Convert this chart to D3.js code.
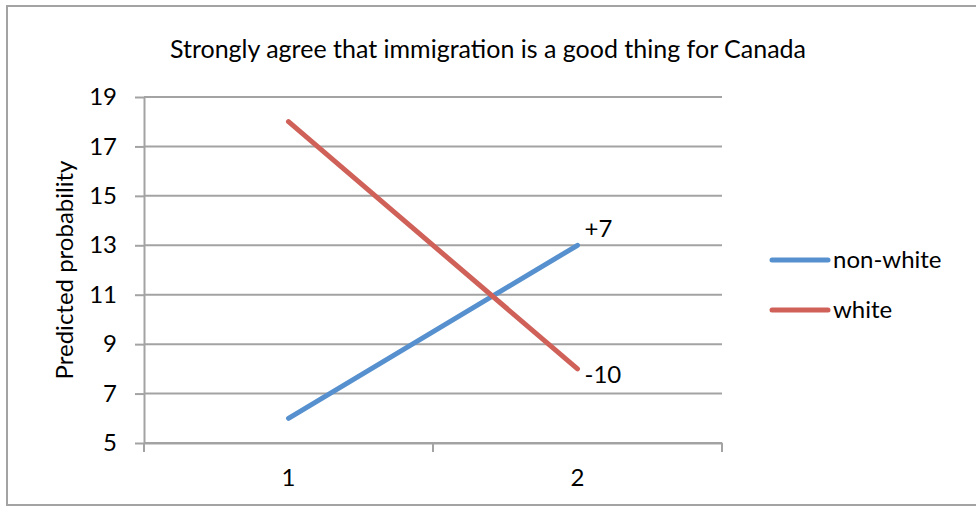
<!DOCTYPE html>
<html>
<head>
<meta charset="utf-8">
<script src="https://cdn.jsdelivr.net/npm/d3@7"></script>
<style>
  html, body { margin: 0; padding: 0; background: #fff; }
  svg text { font-family: Lato, "Open Sans", sans-serif; fill: #000; }
</style>
</head>
<body>
<svg id="chart" width="976" height="506"></svg>
<script>
'use strict';

// Chart data
var categories = ['1', '2'];
var nonWhite = [6, 13];
var white = [18, 8];
var seriesNames = ['non-white', 'white'];
var yTicks = [5, 7, 9, 11, 13, 15, 17, 19];
var changeLabels = ['+7', '-10'];

var colors = { 'non-white': '#5690CE', 'white': '#CF6159' };
var grey = '#a3a3a3';
var fontSize = '24px';

var svg = d3.select('#chart');

// outer chart frame (right edge runs off the picture)
svg.append('rect')
  .attr('x', 7).attr('y', 6)
  .attr('width', 990).attr('height', 499)
  .attr('fill', 'none')
  .attr('stroke', grey)
  .attr('stroke-width', 2);

var plot = { left: 144, right: 722, top: 97, bottom: 443 };

var x = d3.scaleBand().domain(categories).range([plot.left, plot.right]).padding(0);
var y = d3.scaleLinear().domain([5, 19]).range([plot.bottom, plot.top]);

// Title
svg.append('text')
  .attr('x', 488).attr('y', 58)
  .attr('text-anchor', 'middle')
  .attr('font-size', '25px')
  .text('Strongly agree that immigration is a good thing for Canada');

// Gridlines
svg.append('g').selectAll('line')
  .data(yTicks)
  .join('line')
  .attr('x1', plot.left).attr('x2', plot.right)
  .attr('y1', function(d){ return y(d); })
  .attr('y2', function(d){ return y(d); })
  .attr('stroke', grey)
  .attr('stroke-width', 2);

// Y axis
var yAxis = svg.append('g')
  .attr('transform', 'translate(' + plot.left + ',0)')
  .call(d3.axisLeft(y).tickValues(yTicks).tickSize(9).tickPadding(18).tickSizeOuter(0));
yAxis.select('.domain').attr('stroke', grey).attr('stroke-width', 2);
yAxis.selectAll('.tick line').attr('stroke', grey).attr('stroke-width', 2);
yAxis.selectAll('.tick text').attr('font-size', fontSize).attr('font-family', 'Lato').attr('fill', '#000');

// X axis: labels centred in each category, tick marks on category edges
var xAxis = svg.append('g')
  .attr('transform', 'translate(0,' + plot.bottom + ')')
  .call(d3.axisBottom(x).tickSize(0).tickPadding(26).tickSizeOuter(0));
xAxis.select('.domain').attr('stroke', grey).attr('stroke-width', 2);
xAxis.selectAll('.tick text').attr('font-size', fontSize).attr('font-family', 'Lato').attr('fill', '#000');

var edges = [plot.left].concat(categories.map(function(c){ return x(c) + x.bandwidth(); }));
svg.append('g').selectAll('line')
  .data(edges)
  .join('line')
  .attr('x1', function(d){ return d; }).attr('x2', function(d){ return d; })
  .attr('y1', plot.bottom).attr('y2', plot.bottom + 9)
  .attr('stroke', grey)
  .attr('stroke-width', 2);

// Series lines
var series = [
  { name: 'non-white', values: nonWhite },
  { name: 'white', values: white }
];

var line = d3.line()
  .x(function(d, i){ return x(categories[i]) + x.bandwidth() / 2; })
  .y(function(d){ return y(d); });

svg.append('g').selectAll('path')
  .data(series)
  .join('path')
  .attr('d', function(s){ return line(s.values); })
  .attr('fill', 'none')
  .attr('stroke', function(s){ return colors[s.name]; })
  .attr('stroke-width', 5)
  .attr('stroke-linecap', 'round');

// Change labels at the right-hand end of each line
var lastX = x(categories[1]) + x.bandwidth() / 2;
svg.append('text')
  .attr('x', lastX + 7).attr('y', y(nonWhite[1]) - 8)
  .attr('font-size', fontSize)
  .text(changeLabels[0]);
svg.append('text')
  .attr('x', lastX + 7).attr('y', y(white[1]) + 14)
  .attr('font-size', fontSize)
  .text(changeLabels[1]);

// Y axis title
svg.append('text')
  .attr('transform', 'translate(73,' + (plot.top + plot.bottom) / 2 + ') rotate(-90)')
  .attr('text-anchor', 'middle')
  .attr('font-size', fontSize)
  .text('Predicted probability');

// Legend
var legend = svg.append('g').selectAll('g')
  .data(seriesNames)
  .join('g')
  .attr('transform', function(d, i){ return 'translate(772,' + (260 + i * 50) + ')'; });
legend.append('line')
  .attr('x1', 0).attr('x2', 56)
  .attr('stroke', function(d){ return colors[d]; })
  .attr('stroke-width', 5)
  .attr('stroke-linecap', 'round');
legend.append('text')
  .attr('x', 61).attr('dy', '0.35em')
  .attr('font-size', fontSize)
  .text(function(d){ return d; });
</script>
</body>
</html>
